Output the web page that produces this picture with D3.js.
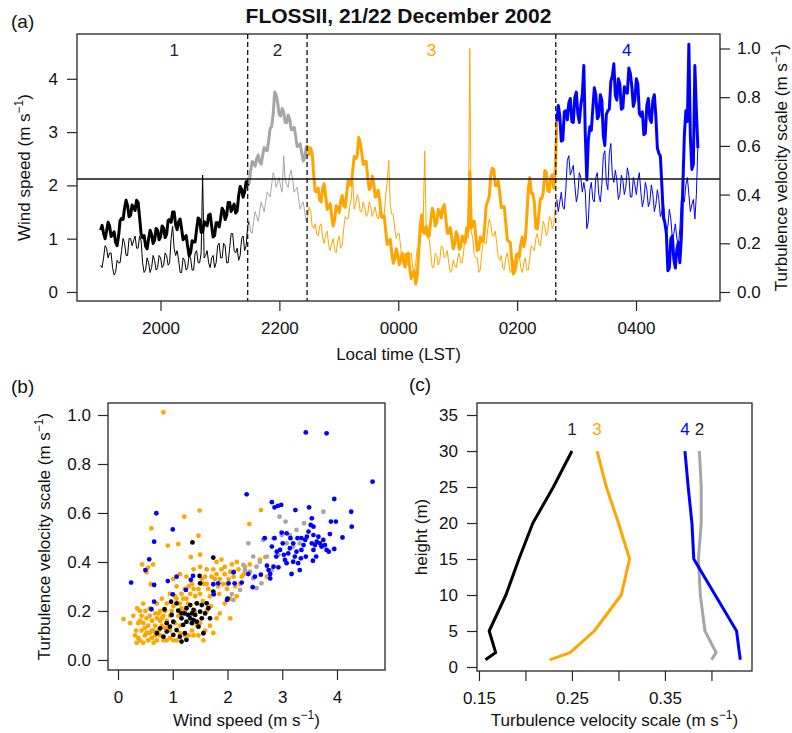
<!DOCTYPE html>
<html><head><meta charset="utf-8">
<script src="https://cdn.jsdelivr.net/npm/d3@7"></script>
<style>body{margin:0;background:#fff}text{font-family:"Liberation Sans",Arial,sans-serif}</style>
</head><body>
<svg id="chart" width="792" height="733"></svg>
<script>
// ---------- Panel (a): time series, minutes after 20:00 LST ----------
const sampleStartMin = -60.5;
const sampleStepMin = 1.515;
const windSpeed = [
1.16,1.25,1.10,1.00,1.14,1.31,1.24,1.04,1.08,1.13,0.93,0.87,1.05,1.34,1.38,1.36,1.58,1.72,1.62,1.41,
1.44,1.63,1.58,1.53,1.72,1.68,1.40,1.09,1.02,1.06,0.86,0.81,1.00,1.16,1.08,0.91,0.97,1.19,1.16,0.98,
1.04,1.24,1.20,1.02,1.08,1.34,1.36,1.31,1.50,1.50,1.26,1.17,1.32,1.37,1.18,0.98,1.02,1.06,0.86,0.68,
0.74,0.96,0.94,0.94,1.18,1.39,1.36,1.12,1.12,1.32,1.28,1.24,1.44,1.46,1.24,1.03,1.06,1.30,1.30,1.22,
1.38,1.57,1.52,1.36,1.44,1.68,1.68,1.51,1.58,1.65,1.48,1.52,1.80,1.98,1.92,1.78,1.88,2.07,2.02,2.03,
2.28,2.45,2.42,2.36,2.50,2.57,2.44,2.40,2.56,2.71,2.66,2.65,2.84,3.07,3.10,3.33,3.75,3.70,3.55,3.33,
3.30,3.44,3.38,3.18,3.18,3.32,3.25,3.05,3.05,3.09,2.92,2.73,2.74,2.78,2.62,2.46,2.50,2.72,
2.75,2.58,2.70,2.60,2.20,1.89,1.88,1.95,1.72,1.69,1.95,2.03,1.80,1.55,1.60,1.66,1.42,1.24,1.36,1.62,1.58,1.49,
1.70,1.81,1.62,1.59,1.85,2.09,2.02,2.00,2.28,2.54,2.50,2.55,2.90,2.80,2.62,2.39,2.45,2.45,2.15,1.92,
1.98,2.17,2.05,1.78,1.80,1.91,1.72,1.41,1.40,1.43,1.15,0.89,0.92,0.99,0.75,0.54,0.62,0.81,0.70,0.51,
0.62,0.73,0.54,0.47,0.70,0.73,0.45,0.25,0.35,0.40,0.15,0.30,0.75,1.25,1.45,1.13,1.10,1.23,1.05,1.05,
1.35,1.57,1.48,1.24,1.30,1.55,1.50,1.39,1.58,1.64,1.40,1.10,1.10,1.21,1.02,0.81,0.90,1.13,1.05,0.80,
0.85,1.05,0.95,0.93,1.20,1.15,2.25,1.20,1.30,1.33,1.05,0.78,0.80,1.03,0.95,0.95,1.25,1.63,1.70,1.80,
2.20,2.32,2.30,2.00,2.00,2.08,1.85,1.58,1.60,1.60,1.30,0.98,0.95,0.93,0.60,0.34,0.38,0.70,0.72,0.66,
0.90,1.03,0.85,0.98,1.40,1.93,2.15,1.85,1.85,1.68,1.20,1.18,1.45,1.75,1.75,1.87,2.28,2.24,1.90,1.88,
2.15,2.20,1.95,2.30,
3.20,3.50,3.30,2.83,2.85,3.38,3.40,3.23,3.55,3.63,3.20,3.18,3.65,3.75,3.35,3.18,3.50,3.70,4.25,2.93,2.10,2.85,
3.10,3.03,3.45,3.83,3.70,3.25,3.30,3.70,3.60,2.93,2.75,3.33,3.40,3.43,3.95,4.05,4.28,3.69,3.60,4.00,
3.90,3.43,3.45,3.85,3.75,3.73,4.20,4.10,3.85,3.48,3.60,4.00,3.90,3.35,3.30,3.38,2.95,2.98,3.50,3.63,
3.25,3.18,3.60,3.70,3.30,2.70,2.60,2.55,2.00,1.40,1.30,1.10,0.40,0.45,1.00,1.05,0.60,0.45,0.80,0.93,
0.55,1.03,2.00,2.95,3.40,3.20,4.65,2.90,2.30,2.40,4.25,3.40,2.70];
const turbulenceScale = [
0.11,0.10,0.14,0.19,0.18,0.14,0.16,0.16,0.10,0.07,0.08,0.13,0.12,0.12,0.17,0.22,0.20,0.15,0.15,0.22,
0.22,0.19,0.21,0.23,0.18,0.18,0.23,0.21,0.12,0.08,0.09,0.14,0.12,0.08,0.10,0.15,0.13,0.09,0.10,0.15,
0.14,0.10,0.11,0.16,0.15,0.11,0.12,0.22,0.27,0.18,0.15,0.17,0.13,0.08,0.08,0.14,0.13,0.09,0.10,0.15,
0.14,0.09,0.09,0.16,0.17,0.12,0.12,0.16,0.48,0.14,0.15,0.17,0.12,0.10,0.14,0.15,0.10,0.12,0.19,0.20,
0.14,0.14,0.20,0.19,0.12,0.12,0.18,0.24,0.24,0.17,0.16,0.18,0.13,0.15,0.22,0.23,0.17,0.19,0.27,0.29,
0.25,0.24,0.29,0.33,0.31,0.29,0.33,0.37,0.35,0.33,0.37,0.41,0.40,0.39,0.44,0.49,0.47,0.43,0.45,0.47,
0.43,0.41,0.56,0.46,0.44,0.43,0.48,0.50,0.46,0.41,0.42,0.43,0.38,0.34,0.36,0.37,0.33,0.29,
0.31,0.35,0.33,0.27,0.26,0.28,0.24,0.23,0.27,0.28,0.22,0.20,0.24,0.25,0.19,0.17,0.20,0.22,0.17,0.16,0.21,0.23,
0.18,0.19,0.26,0.31,0.30,0.30,0.35,0.38,0.47,0.34,0.36,0.40,0.38,0.33,0.33,0.37,0.35,0.31,0.32,0.37,
0.35,0.31,0.33,0.35,0.31,0.30,0.34,0.35,0.30,0.32,0.40,0.45,0.54,0.36,0.32,0.32,0.26,0.22,0.24,0.24,
0.18,0.13,0.14,0.16,0.12,0.11,0.15,0.16,0.10,0.08,0.12,0.18,0.18,0.20,0.28,0.30,0.58,0.25,0.22,0.22,
0.16,0.10,0.10,0.16,0.15,0.11,0.13,0.19,0.18,0.14,0.15,0.17,0.12,0.08,0.09,0.13,0.11,0.10,0.14,0.16,
0.12,0.12,0.17,0.24,0.24,0.22,1.00,0.25,0.22,0.15,0.14,0.14,0.08,0.09,0.16,0.21,0.20,0.20,0.26,0.30,
0.28,0.23,0.23,0.25,0.20,0.14,0.13,0.15,0.10,0.09,0.14,0.16,0.12,0.08,0.09,0.13,0.11,0.09,0.13,0.15,
0.10,0.08,0.12,0.14,0.09,0.09,0.14,0.19,0.18,0.17,0.22,0.24,0.20,0.19,0.24,0.29,0.27,0.23,0.25,0.31,
0.30,0.26,0.28,0.36,
0.38,0.33,0.37,0.41,0.35,0.34,0.42,0.54,0.56,0.48,0.50,0.52,0.44,0.37,0.40,0.49,0.47,0.41,0.45,0.41,0.26,0.29,
0.42,0.45,0.38,0.37,0.47,0.49,0.40,0.37,0.44,0.56,0.58,0.45,0.42,0.57,0.61,0.48,0.45,0.50,0.46,0.38,
0.40,0.48,0.46,0.40,0.43,0.51,0.48,0.39,0.39,0.47,0.44,0.40,0.46,0.49,0.41,0.35,0.38,0.45,0.42,0.35,
0.37,0.44,0.40,0.33,0.36,0.42,0.38,0.31,0.33,0.37,0.30,0.24,0.27,0.34,0.30,0.22,0.24,0.28,0.22,0.19,
0.26,0.38,0.40,0.37,0.44,0.47,0.40,0.33,0.36,0.38,0.30,0.40,0.60];
const regimeBreaksMin = [88, 148, 399];
const regimeNames = ["1", "2", "3", "4"];
const regimeColors = ["#000000", "#a6a6a6", "#ffa500", "#0000ff"];
const regimeLabelColors = ["#1b2a38", "#222222", "#ffa500", "#0000ff"];
const timeTicksMin = [0, 120, 240, 360, 480];
const timeTickLabels = ["2000", "2200", "0000", "0200", "0400"];
const windTicks = [0, 1, 2, 3, 4];
const turbTicks = [0, 0.2, 0.4, 0.6, 0.8, 1.0];
const thresholdWind = 2.12;

// ---------- Panel (b): scatter [wind speed, turbulence velocity scale] ----------
const scatterRegime1 = [[1.36,0.480],[1.74,0.418],[1.49,0.343],[1.50,0.313],[1.74,0.279],[2.00,0.250],[0.97,0.238],[0.85,0.207],[1.10,0.201],[1.22,0.190],[1.28,0.184],[1.35,0.190],[1.41,0.184],[1.32,0.170],[1.38,0.163],[1.25,0.156],[1.44,0.156],[1.19,0.143],[1.35,0.150],[1.16,0.170],[1.07,0.122],[1.01,0.102],[0.95,0.136],[0.89,0.116],[0.83,0.095],[1.13,0.095],[1.22,0.109],[1.25,0.082],[1.16,0.075],[1.47,0.136],[1.53,0.170],[1.59,0.190],[1.65,0.211],[1.62,0.231],[1.53,0.224],[1.44,0.231],[1.32,0.224],[1.25,0.211],[1.07,0.231],[0.98,0.184],[0.77,0.129],[0.71,0.109],[1.01,0.156],[1.16,0.190],[1.50,0.197],[1.68,0.170],[1.38,0.204],[1.56,0.109],[0.89,0.150]];
const scatterRegime2 = [[3.75,0.605],[3.40,0.558],[3.06,0.565],[2.95,0.585],[3.26,0.531],[3.14,0.510],[2.99,0.510],[2.84,0.497],[2.65,0.490],[2.38,0.476],[2.47,0.422],[2.59,0.401],[2.53,0.381],[2.41,0.361],[2.32,0.367],[2.29,0.388],[2.47,0.333],[2.53,0.293],[2.62,0.313],[2.23,0.286],[2.11,0.245],[2.08,0.269],[3.20,0.463],[3.32,0.476],[3.08,0.476],[2.93,0.429],[2.72,0.422],[2.81,0.367]];
const scatterRegime3 = [[0.31,0.10],[0.34,0.07],[0.40,0.08],[0.46,0.07],[0.49,0.10],[0.52,0.11],[0.55,0.08],[0.62,0.09],[0.65,0.07],[0.71,0.08],[0.77,0.10],[0.83,0.08],[0.89,0.08],[0.95,0.09],[1.01,0.08],[1.07,0.08],[1.13,0.11],[1.22,0.10],[1.29,0.10],[1.38,0.10],[1.47,0.10],[1.56,0.08],[0.40,0.20],[0.43,0.18],[0.46,0.15],[0.52,0.17],[0.55,0.14],[0.58,0.18],[0.62,0.16],[0.65,0.12],[0.68,0.14],[0.71,0.17],[0.74,0.19],[0.77,0.16],[0.80,0.14],[0.83,0.18],[0.86,0.20],[0.89,0.16],[0.92,0.13],[0.95,0.18],[0.98,0.20],[1.01,0.22],[1.04,0.26],[1.07,0.25],[1.13,0.23],[1.16,0.27],[1.19,0.25],[1.22,0.29],[1.25,0.25],[1.29,0.30],[1.32,0.27],[1.35,0.31],[1.38,0.29],[1.41,0.26],[1.44,0.23],[1.47,0.29],[1.50,0.27],[1.53,0.33],[1.56,0.31],[1.59,0.34],[1.62,0.31],[1.65,0.29],[1.68,0.26],[1.71,0.34],[1.74,0.37],[1.77,0.33],[1.80,0.35],[1.83,0.30],[1.86,0.33],[1.89,0.37],[1.92,0.31],[1.95,0.35],[1.99,0.29],[2.02,0.33],[2.05,0.36],[2.08,0.39],[2.11,0.34],[2.14,0.30],[2.17,0.40],[2.20,0.37],[2.23,0.31],[2.26,0.34],[2.32,0.38],[2.41,0.39],[2.59,0.41],[2.69,0.42],[2.72,0.34],[1.62,0.20],[1.50,0.15],[1.59,0.12],[1.68,0.14],[1.74,0.11],[1.80,0.17],[1.86,0.19],[1.95,0.23],[2.05,0.25],[2.17,0.26],[2.05,0.17],[1.50,0.38],[1.38,0.37],[1.25,0.34],[1.13,0.35],[1.01,0.33],[1.07,0.30],[1.19,0.20],[0.89,0.23],[0.95,0.27],[0.71,0.23],[0.77,0.20],[0.80,0.25],[1.44,0.14],[1.35,0.12],[1.13,0.14],[1.62,0.37],[1.89,0.41],[1.80,0.40],[1.50,0.43],[1.33,0.42],[0.22,0.15],[0.37,0.15],[0.33,0.12],[0.28,0.18],[0.83,1.011],[1.49,0.610],[1.21,0.585],[2.61,0.612],[2.40,0.555],[0.61,0.537],[1.47,0.507],[1.10,0.473],[0.91,0.467],[0.44,0.390],[0.64,0.390],[0.55,0.377],[0.52,0.358],[0.60,0.309],[0.10,0.167],[0.43,0.12],[0.49,0.13],[0.58,0.11],[0.68,0.10],[0.74,0.12],[0.86,0.13],[0.95,0.12],[0.50,0.20],[0.58,0.21],[0.68,0.19],[0.80,0.17],[1.04,0.15],[1.10,0.18],[1.16,0.21],[0.37,0.09],[0.62,0.12],[1.28,0.23],[1.40,0.20],[1.55,0.24],[1.70,0.22],[1.85,0.27],[2.00,0.31],[1.95,0.38],[2.12,0.36],[2.30,0.35],[0.35,0.21],[0.46,0.23],[0.40,0.16]];
const scatterRegime4 = [[4.65,0.728],[3.43,0.929],[3.81,0.925],[2.35,0.676],[2.81,0.644],[2.86,0.623],[2.92,0.629],[2.98,0.633],[3.24,0.612],[3.49,0.623],[3.54,0.578],[3.95,0.657],[4.26,0.605],[4.27,0.544],[4.10,0.50],[3.87,0.514],[3.98,0.565],[3.89,0.565],[3.57,0.544],[3.72,0.465],[3.95,0.453],[0.70,0.599],[0.66,0.483],[1.00,0.533],[0.57,0.411],[0.50,0.367],[0.24,0.316],[0.91,0.322],[1.07,0.340],[0.66,0.306],[0.66,0.238],[0.61,0.207],[1.24,0.286],[1.33,0.327],[1.00,0.268],[1.74,0.309],[1.75,0.268],[1.83,0.313],[2.02,0.313],[1.99,0.245],[2.13,0.313],[2.26,0.316],[2.38,0.351],[2.50,0.340],[2.61,0.348],[2.46,0.297],[2.11,0.358],[1.37,0.343],[2.72,0.385],[2.78,0.351],[2.78,0.333],[2.75,0.367],[2.84,0.381],[2.89,0.422],[2.90,0.442],[2.96,0.449],[3.01,0.476],[3.03,0.429],[3.05,0.408],[3.08,0.395],[3.11,0.435],[3.14,0.456],[3.15,0.497],[3.20,0.476],[3.20,0.401],[3.23,0.422],[3.26,0.442],[3.29,0.395],[3.32,0.367],[3.35,0.449],[3.39,0.469],[3.42,0.490],[3.45,0.503],[3.48,0.524],[3.52,0.551],[3.54,0.476],[3.57,0.449],[3.60,0.469],[3.63,0.483],[3.66,0.503],[3.69,0.476],[3.72,0.463],[3.75,0.490],[3.78,0.469],[3.81,0.449],[3.57,0.510],[3.35,0.497],[3.08,0.517],[2.99,0.520],[3.28,0.497],[2.81,0.463],[2.86,0.497],[2.68,0.497],[2.93,0.378],[3.17,0.351],[3.34,0.415],[3.62,0.422],[3.56,0.405],[3.43,0.422],[3.85,0.442]];
const scatterXTicks = [0, 1, 2, 3, 4];
const scatterYTicks = [0, 0.2, 0.4, 0.6, 0.8, 1.0];

// ---------- Panel (c): profiles ----------
const profileHeights = [1, 2, 5, 10, 15, 20, 25, 30];
const profileRegime1 = [0.157, 0.168, 0.161, 0.179, 0.193, 0.208, 0.230, 0.250];
const profileRegime2 = [0.400, 0.405, 0.393, 0.388, 0.386, 0.389, 0.389, 0.387];
const profileRegime3 = [0.226, 0.248, 0.274, 0.303, 0.312, 0.300, 0.287, 0.277];
const profileRegime4 = [0.431, 0.430, 0.427, 0.404, 0.381, 0.379, 0.375, 0.3715];
const profileXTicks = [0.15, 0.20, 0.25, 0.30, 0.35, 0.40];
const profileXLabelled = [0.15, 0.25, 0.35];
const profileYTicks = [0, 5, 10, 15, 20, 25, 30, 35];
const profileLabelHeight = 33;

// ================= drawing =================
const svg = d3.select("#chart");
const FS = 17, BOX = "#262626";
const fmt1 = d3.format(".1f");

function unitLabel(g, x, y, prefix, rotate, anchor) {
  const t = g.append("text").attr("font-size", FS).attr("fill", "#111")
    .attr("text-anchor", anchor || "middle")
    .attr("transform", `translate(${x},${y})` + (rotate ? ` rotate(${rotate})` : ""));
  t.append("tspan").text(prefix + " (m s");
  t.append("tspan").attr("font-size", 12).attr("dy", -7).text("\u22121");
  t.append("tspan").attr("dy", 7).text(")");
  return t;
}
function styleAxis(g) {
  g.select(".domain").remove();
  g.selectAll(".tick line").attr("stroke", BOX).attr("stroke-width", 1.2);
  g.selectAll(".tick text").attr("font-size", FS).attr("fill", "#111").attr("font-family", '"Liberation Sans",Arial,sans-serif');
}
function box(g, x0, y0, x1, y1) {
  g.append("rect").attr("x", x0).attr("y", y0).attr("width", x1 - x0).attr("height", y1 - y0)
    .attr("fill", "none").attr("stroke", BOX).attr("stroke-width", 1.3);
}

// ---- Panel (a) ----
const A = {l: 77, r: 720, t: 34, b: 301};
const xA = d3.scaleLinear().domain([-84.3, 564.8]).range([A.l, A.r]);
const yW = d3.scaleLinear().domain([-0.169, 4.84]).range([A.b, A.t]);
const yS = d3.scaleLinear().domain([-0.037, 1.0595]).range([A.b, A.t]);
const ga = svg.append("g");
const tMin = windSpeed.map((_, i) => sampleStartMin + i * sampleStepMin);
const regimeOf = t => t < regimeBreaksMin[0] ? 0 : t < regimeBreaksMin[1] ? 1 : t < regimeBreaksMin[2] ? 2 : 3;
const idx = tMin.map((t, i) => i);
ga.append("clipPath").attr("id", "clipA").append("rect")
  .attr("x", A.l).attr("y", A.t).attr("width", A.r - A.l).attr("height", A.b - A.t);
const lineW = d3.line().x(i => xA(tMin[i])).y(i => yW(windSpeed[i]));
const lineS = d3.line().x(i => xA(tMin[i])).y(i => yS(turbulenceScale[i]));
const plotA = ga.append("g").attr("clip-path", "url(#clipA)");
function segOf(r) {
  const seg = idx.filter(i => regimeOf(tMin[i]) === r);
  const nxt = seg[seg.length - 1] + 1;
  if (nxt < idx.length) seg.push(nxt);
  return seg;
}
for (let r = 0; r < 4; r++) {
  plotA.append("path").attr("d", lineS(segOf(r))).attr("fill", "none")
    .attr("stroke", regimeColors[r]).attr("stroke-width", 1).attr("stroke-linejoin", "round");
}
for (let r = 0; r < 4; r++) {
  plotA.append("path").attr("d", lineW(segOf(r))).attr("fill", "none")
    .attr("stroke", regimeColors[r]).attr("stroke-width", 3).attr("stroke-linejoin", "round");
}
ga.append("line").attr("x1", A.l).attr("x2", A.r).attr("y1", yW(thresholdWind)).attr("y2", yW(thresholdWind))
  .attr("stroke", "#111").attr("stroke-width", 1.3);
regimeBreaksMin.forEach(t => ga.append("line").attr("x1", xA(t)).attr("x2", xA(t)).attr("y1", A.t).attr("y2", A.b)
  .attr("stroke", "#111").attr("stroke-width", 1.3).attr("stroke-dasharray", "5,3"));
const regimeEdges = [tMin[0], ...regimeBreaksMin, tMin[tMin.length - 1]];
regimeNames.forEach((n, r) => ga.append("text").attr("x", xA((regimeEdges[r] + regimeEdges[r + 1]) / 2)).attr("y", 56)
  .attr("text-anchor", "middle").attr("font-size", FS).attr("fill", regimeLabelColors[r]).text(n));
box(ga, A.l, A.t, A.r, A.b);
ga.append("g").attr("transform", `translate(0,${A.b})`)
  .call(d3.axisBottom(xA).tickValues(timeTicksMin).tickFormat((d, i) => timeTickLabels[i]).tickSize(10).tickPadding(11)).call(styleAxis);
ga.append("g").attr("transform", `translate(${A.l},0)`)
  .call(d3.axisLeft(yW).tickValues(windTicks).tickFormat(d3.format("d")).tickSize(10).tickPadding(9)).call(styleAxis);
ga.append("g").attr("transform", `translate(${A.r},0)`)
  .call(d3.axisRight(yS).tickValues(turbTicks).tickFormat(fmt1).tickSize(10).tickPadding(7)).call(styleAxis);
ga.append("text").attr("x", (A.l + A.r) / 2).attr("y", 23).attr("text-anchor", "middle")
  .attr("font-size", 21).attr("font-weight", "bold").attr("fill", "#111").text("FLOSSII, 21/22 December 2002");
ga.append("text").attr("x", 11).attr("y", 28).attr("font-size", 19).attr("fill", "#111").text("(a)");
ga.append("text").attr("x", (A.l + A.r) / 2).attr("y", 360).attr("text-anchor", "middle")
  .attr("font-size", FS).attr("fill", "#111").text("Local time (LST)");
unitLabel(ga, 30, (A.t + A.b) / 2, "Wind speed", -90);
unitLabel(ga, 787, (A.t + A.b) / 2, "Turbulence velocity scale", -90);

// ---- Panel (b) ----
const B = {l: 108, r: 385, t: 403, b: 670};
const xB = d3.scaleLinear().domain([-0.183, 4.877]).range([B.l, B.r]);
const yB = d3.scaleLinear().domain([-0.041, 1.049]).range([B.b, B.t]);
const gb = svg.append("g");
[[scatterRegime3, 2], [scatterRegime1, 0], [scatterRegime2, 1], [scatterRegime4, 3]].forEach(([pts, r]) => {
  gb.append("g").selectAll("circle").data(pts).join("circle")
    .attr("cx", d => xB(d[0])).attr("cy", d => yB(d[1])).attr("r", 2.4).attr("fill", regimeColors[r]);
});
box(gb, B.l, B.t, B.r, B.b);
gb.append("g").attr("transform", `translate(0,${B.b})`)
  .call(d3.axisBottom(xB).tickValues(scatterXTicks).tickFormat(d3.format("d")).tickSize(10).tickPadding(11)).call(styleAxis);
gb.append("g").attr("transform", `translate(${B.l},0)`)
  .call(d3.axisLeft(yB).tickValues(scatterYTicks).tickFormat(fmt1).tickSize(10).tickPadding(7)).call(styleAxis);
gb.append("text").attr("x", 11).attr("y", 393).attr("font-size", 19).attr("fill", "#111").text("(b)");
unitLabel(gb, (B.l + B.r) / 2, 726, "Wind speed", 0);
unitLabel(gb, 50, (B.t + B.b) / 2, "Turbulence velocity scale", -90);

// ---- Panel (c) ----
const C = {l: 477, r: 752, t: 403, b: 671};
const xC = d3.scaleLinear().domain([0.1479, 0.4436]).range([C.l, C.r]);
const yC = d3.scaleLinear().domain([-0.556, 36.67]).range([C.b, C.t]);
const gc = svg.append("g");
const profiles = [profileRegime1, profileRegime2, profileRegime3, profileRegime4];
const lineC = d3.line().x(d => xC(d[0])).y(d => yC(d[1]));
[1, 0, 2, 3].forEach(r => {
  gc.append("path").attr("d", lineC(profiles[r].map((v, k) => [v, profileHeights[k]]))).attr("fill", "none")
    .attr("stroke", regimeColors[r]).attr("stroke-width", 3).attr("stroke-linejoin", "round");
});
profiles.forEach((p, r) => gc.append("text").attr("x", xC(p[p.length - 1])).attr("y", yC(profileLabelHeight) + 6)
  .attr("text-anchor", "middle").attr("font-size", FS).attr("fill", regimeLabelColors[r]).text(regimeNames[r]));
box(gc, C.l, C.t, C.r, C.b);
gc.append("g").attr("transform", `translate(0,${C.b})`)
  .call(d3.axisBottom(xC).tickValues(profileXTicks)
    .tickFormat(d => profileXLabelled.some(v => Math.abs(v - d) < 1e-9) ? d3.format(".2f")(d) : "")
    .tickSize(10).tickPadding(11)).call(styleAxis);
gc.append("g").attr("transform", `translate(${C.l},0)`)
  .call(d3.axisLeft(yC).tickValues(profileYTicks).tickFormat(d3.format("d")).tickSize(10).tickPadding(9)).call(styleAxis);
gc.append("text").attr("x", 409).attr("y", 391).attr("font-size", 19).attr("fill", "#111").text("(c)");
unitLabel(gc, (C.l + C.r) / 2, 726, "Turbulence velocity scale", 0);
gc.append("text").attr("transform", `translate(427,${(C.t + C.b) / 2}) rotate(-90)`).attr("text-anchor", "middle")
  .attr("font-size", FS).attr("fill", "#111").text("height (m)");
</script>
</body></html>
